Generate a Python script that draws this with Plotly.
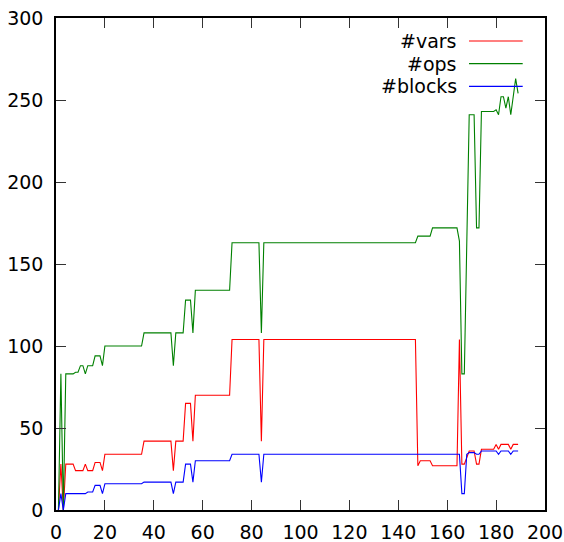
import plotly.graph_objects as go

x_idx = list(range(1, 190))

ops = [
    0, 83, 0, 83, 83, 83, 83, 84, 84, 88,
    88, 83, 88, 88, 88, 94, 94, 94, 88, 100,
    100, 100, 100, 100, 100, 100, 100, 100, 100, 100,
    100, 100, 100, 100, 100, 108, 108, 108, 108, 108,
    108, 108, 108, 108, 108, 108, 108, 88, 108, 108,
    108, 108, 128, 128, 128, 108, 134, 134, 134, 134,
    134, 134, 134, 134, 134, 134, 134, 134, 134, 134,
    134, 163, 163, 163, 163, 163, 163, 163, 163, 163,
    163, 163, 163, 108, 163, 163, 163, 163, 163, 163,
    163, 163, 163, 163, 163, 163, 163, 163, 163, 163,
    163, 163, 163, 163, 163, 163, 163, 163, 163, 163,
    163, 163, 163, 163, 163, 163, 163, 163, 163, 163,
    163, 163, 163, 163, 163, 163, 163, 163, 163, 163,
    163, 163, 163, 163, 163, 163, 163, 163, 163, 163,
    163, 163, 163, 163, 163, 163, 163, 167, 167, 167,
    167, 167, 167, 172, 172, 172, 172, 172, 172, 172,
    172, 172, 172, 172, 164, 83, 83, 162, 241, 241,
    241, 172, 172, 243, 243, 243, 243, 243, 243, 244,
    241, 252, 252, 245, 252, 241, 252, 263, 254,
]

vars_ = [
    0, 28, 0, 28, 28, 28, 28, 24, 24, 24,
    24, 28, 24, 24, 24, 29, 29, 29, 24, 34,
    34, 34, 34, 34, 34, 34, 34, 34, 34, 34,
    34, 34, 34, 34, 34, 42, 42, 42, 42, 42,
    42, 42, 42, 42, 42, 42, 42, 24, 42, 42,
    42, 42, 65, 65, 65, 42, 70, 70, 70, 70,
    70, 70, 70, 70, 70, 70, 70, 70, 70, 70,
    70, 104, 104, 104, 104, 104, 104, 104, 104, 104,
    104, 104, 104, 42, 104, 104, 104, 104, 104, 104,
    104, 104, 104, 104, 104, 104, 104, 104, 104, 104,
    104, 104, 104, 104, 104, 104, 104, 104, 104, 104,
    104, 104, 104, 104, 104, 104, 104, 104, 104, 104,
    104, 104, 104, 104, 104, 104, 104, 104, 104, 104,
    104, 104, 104, 104, 104, 104, 104, 104, 104, 104,
    104, 104, 104, 104, 104, 104, 104, 27, 30, 30,
    30, 30, 30, 27, 27, 27, 27, 27, 27, 27,
    27, 27, 27, 27, 104, 28, 28, 32, 36, 36,
    36, 28, 28, 37, 37, 37, 37, 37, 37, 40,
    37, 40, 40, 40, 40, 37, 40, 40, 40,
]

blocks = [
    0, 10, 0, 10, 10, 10, 10, 10, 10, 10,
    10, 10, 11, 11, 11, 15, 15, 15, 10, 16,
    16, 16, 16, 16, 16, 16, 16, 16, 16, 16,
    16, 16, 16, 16, 16, 17, 17, 17, 17, 17,
    17, 17, 17, 17, 17, 17, 17, 10, 17, 17,
    17, 17, 28, 28, 28, 17, 30, 30, 30, 30,
    30, 30, 30, 30, 30, 30, 30, 30, 30, 30,
    30, 34, 34, 34, 34, 34, 34, 34, 34, 34,
    34, 34, 34, 17, 34, 34, 34, 34, 34, 34,
    34, 34, 34, 34, 34, 34, 34, 34, 34, 34,
    34, 34, 34, 34, 34, 34, 34, 34, 34, 34,
    34, 34, 34, 34, 34, 34, 34, 34, 34, 34,
    34, 34, 34, 34, 34, 34, 34, 34, 34, 34,
    34, 34, 34, 34, 34, 34, 34, 34, 34, 34,
    34, 34, 34, 34, 34, 34, 34, 34, 34, 34,
    34, 34, 34, 34, 34, 34, 34, 34, 34, 34,
    34, 34, 34, 34, 34, 10, 10, 34, 35, 35,
    35, 34, 34, 36, 36, 36, 36, 36, 36, 36,
    34, 36, 36, 36, 36, 34, 36, 36, 36,
]

series_names = ["#vars", "#ops", "#blocks"]
series_values = [vars_, ops, blocks]
series_colors = ["#ff0000", "#008000", "#0000ff"]

FONT = "DejaVu Sans"

fig = go.Figure()
for name, vals, col in zip(series_names, series_values, series_colors):
    fig.add_trace(go.Scatter(x=x_idx, y=vals, mode="lines", name=name,
                             line=dict(color=col, width=1.1), showlegend=False))

# gnuplot-style key: right-aligned labels with line samples to the right
key_y = [0.9533, 0.9073, 0.8612]
for name, col, ky in zip(series_names, series_colors, key_y):
    fig.add_annotation(xref="paper", yref="paper", x=0.825, y=ky, text=name,
                       showarrow=False, xanchor="right", yanchor="middle",
                       font=dict(family=FONT, size=19, color="black"))
    fig.add_shape(type="line", xref="paper", yref="paper", x0=0.8446, x1=0.9544,
                  y0=ky, y1=ky, line=dict(color=col, width=1.2))

axis_common = dict(
    showgrid=False, zeroline=False, showline=True, linecolor="black", linewidth=1.5,
    mirror="allticks", ticks="inside", ticklen=10, tickwidth=1, tickcolor="#333333",
    tickfont=dict(family=FONT, size=19, color="black"), automargin=False,
)
fig.update_xaxes(range=[0, 200], tick0=0, dtick=20, ticklabelstandoff=4, **axis_common)
fig.update_yaxes(range=[0, 300], tick0=0, dtick=50, ticklabelstandoff=7, **axis_common)

fig.update_layout(
    width=564, height=542,
    margin=dict(l=56, r=19, t=18, b=32, autoexpand=False),
    plot_bgcolor="white", paper_bgcolor="white",
    showlegend=False,
)
fig.write_html("out.html")
